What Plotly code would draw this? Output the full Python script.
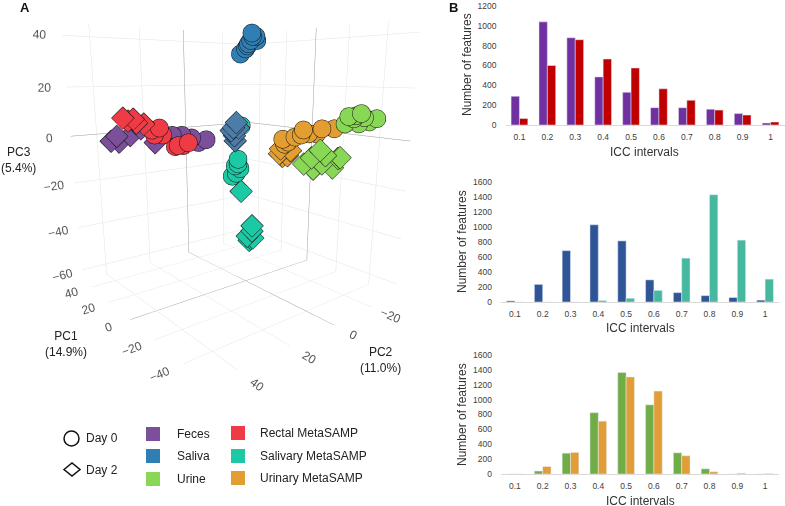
import plotly.graph_objects as go

icc = ["0.1","0.2","0.3","0.4","0.5","0.6","0.7","0.8","0.9","1"]
feces_icc = [290,1040,880,485,330,175,175,160,115,20]
rectal_icc = [65,600,860,665,575,365,250,150,100,30]
saliva_icc = [15,235,685,1030,815,295,125,85,60,25]
salivary_icc = [0,0,0,20,50,155,585,1430,825,305]
urine_icc = [0,40,280,825,1365,930,285,70,0,0]
urinary_icc = [0,100,290,710,1305,1115,245,30,10,5]

# (pc1, pc2, pc3)
feces_d0 = ([15.1,17.6,12.6,13.3,10.8,8.8],[20.1,22.9,17.3,18.2,15.4,13.1],[1,1,-0.1,-1.3,-2,-0.9])
feces_d2 = ([33.2,31.2,31.7,28.2,25.4,21.9],[40.6,38.3,38.9,35,31.9,28],[-1.3,-1.7,0.7,1,3.7,-2])
rectal_d0 = ([13.7,11.9,13.2,11.1,8.1,6.1,4.8,7.4],[32.7,30.7,32.1,29.9,26.5,24.3,22.9,25.7],[4.2,5,2.3,2.3,-2.3,-1.9,-0.8,-1.9])
rectal_d2 = ([20.7,19.5,18.2,17.4,15.7],[40.5,39.1,37.7,36.9,34.9],[8.8,7.7,8.4,6.9,6.5])
saliva_d0 = ([-4,-5.3,-6,-6.5,-7,-6.8,-7.8,-8,-5.8],[5.8,4.4,3.6,3,2.5,2.7,1.6,1.3,3.9],[32.7,34.6,36.5,37.7,39.2,40.4,39.2,37.7,35.7])
saliva_d2 = ([-9.6,-8.9,-8.3,-9.1,-9.3,-10.1],[11.2,12,12.6,11.7,11.5,10.6],[7.2,5.2,4.1,2.2,0.2,5.2])
urine_d0 = ([-41.2,-42,-43.2,-45,-45.8,-47,-48.8,-44.5,-43.7],[-13.8,-14.7,-16.1,-18,-18.9,-20.3,-22.2,-17.5,-16.6],[7.2,9.9,9.1,11,9.5,7.9,9.1,7.2,10.2])
urine_d2 = ([-39.1,-37.1,-35.3,-37.6,-39.6,-40.4,-42.2,-43.4,-43.9],[-4.2,-2,0,-2.5,-4.8,-5.6,-7.6,-9,-9.5],[-2,-4.7,-7,-8.9,-7,-3.9,-8.5,-5,-4.7])
urinary_d0 = ([-35.2,-32.2,-30.9,-28.9,-27.1,-27.6,-25.6,-23.9,-23.1,-22.6],[-14.4,-11,-9.6,-7.4,-5.4,-6,-3.7,-1.8,-0.9,-0.4],[4.9,4.9,3,3,2.6,4.5,1.8,-0.1,-0.9,1])
urinary_d2 = ([-18.8,-20.9,-18.3,-20.1,-18.1],[-3.4,-5.6,-2.8,-4.8,-2.5],[-6.5,-4.2,-3.5,-6.2,-5.4])
salivary_d0 = ([-4.3,-3.5,-3.5,-2.8,-4,-3,-2],[5.5,6.4,6.4,7.2,5.8,6.9,8.1],[5.2,-8.3,-10.2,-11,-12.2,-14.1,-15.3])
salivary_d2 = ([-4.3,-7.3,-7.3,-6,-7,-6.5,-7.5],[5.5,2.2,2.2,3.6,2.5,3,1.9],[-21.8,-36.8,-39.1,-41.4,-42.5,-43.3,-42.2])

PURPLE, BLUE, LIME = "#7B4F9A", "#2F7FB5", "#88D755"
RED, TEAL, ORANGE = "#EF3B45", "#1DC9A4", "#E39E32"

groups = [
    (feces_d0, PURPLE, "circle"), (feces_d2, PURPLE, "diamond"),
    (rectal_d0, RED, "circle"), (rectal_d2, RED, "diamond"),
    (saliva_d0, BLUE, "circle"), (saliva_d2, "#4C7CA8", "diamond"),
    (urine_d0, LIME, "circle"), (urine_d2, LIME, "diamond"),
    (urinary_d0, ORANGE, "circle"), (urinary_d2, ORANGE, "diamond"),
    (salivary_d0, TEAL, "circle"), (salivary_d2, TEAL, "diamond"),
]

fig = go.Figure()
for (d, c, s) in groups:
    fig.add_trace(go.Scatter3d(x=d[0], y=d[1], z=d[2], mode="markers", showlegend=False,
        marker=dict(size=10.5 if s == "circle" else 7.5, color=c, symbol=s, opacity=1,
                    line=dict(color="#111111", width=1))))

W, H = 785, 506
def px(x): return x / W
def py(y): return 1 - y / H

def note(x, y, text, size=12, bold=False, color="#222", angle=0):
    fig.add_annotation(x=px(x), y=py(y), xref="paper", yref="paper", text=f"<b>{text}</b>" if bold else text,
                       xanchor="center", yanchor="middle", textangle=angle,
                       showarrow=False, font=dict(size=size, color=color), align="center")

bars = [
    (feces_icc, rectal_icc, "#7030A0", "#C00000", 505.5, 784.5, 6, 125, 1200, 200, "x", "y", 467, 65, 644, 152),
    (saliva_icc, salivary_icc, "#2F5597", "#46B8A0", 501, 779, 182, 302, 1600, 200, "x2", "y2", 462, 242, 640, 328),
    (urine_icc, urinary_icc, "#70AD47", "#E09D38", 501, 779, 355, 474, 1600, 200, "x3", "y3", 462, 415, 640, 501),
]
for a, b, ca, cb, l, r, t, bt, ymax, dt, xa, ya, ytx, yty, xtx, xty in bars:
    fig.add_trace(go.Bar(x=icc, y=a, marker_color=ca, xaxis=xa, yaxis=ya, showlegend=False))
    fig.add_trace(go.Bar(x=icc, y=b, marker_color=cb, xaxis=xa, yaxis=ya, showlegend=False))
    sx = "xaxis" + xa[1:]
    sy = "yaxis" + ya[1:]
    fig.update_layout({
        sx: dict(domain=[px(l), px(r)], anchor=ya, type="category", showgrid=False, showline=True,
                 automargin=False, linecolor="#d9d9d9", linewidth=1, ticks="", ticklabelstandoff=4,
                 tickfont=dict(size=8.5, color="#404040")),
        sy: dict(domain=[py(bt), py(t)], anchor=xa, range=[0, ymax], dtick=dt, showgrid=False,
                 automargin=False, zeroline=False, showline=False, ticks="", ticklabelstandoff=8,
                 tickfont=dict(size=8.5, color="#404040")),
    })
    note(ytx, yty, "Number of features", 12, color="#333", angle=-90)
    note(xtx, xty, "ICC intervals", 12, color="#333")

ax = dict(showbackground=False, gridcolor="#e4e4e4", gridwidth=1, zeroline=True, zerolinecolor="#999999",
          zerolinewidth=1, showline=False, showspikes=False, title=dict(text=""),
          tickfont=dict(size=12, color="#555555"), dtick=20)
fig.update_layout(
    scene=dict(
        domain=dict(x=[0, px(468)], y=[py(400), py(0)]),
        xaxis=dict(ax, range=[-55, 50]),
        yaxis=dict(ax, range=[-35, 50]),
        zaxis=dict(ax, range=[-65, 45]),
        aspectmode="manual", aspectratio=dict(x=1.28, y=1.28, z=1.45),
        camera=dict(eye=dict(x=-2.0, y=1.6, z=0.46), center=dict(x=0, y=0, z=-0.205)),
    ),
    barmode="group", bargap=0.4, bargroupgap=0,
    width=W, height=H, autosize=False,
    margin=dict(l=0, r=0, t=0, b=0),
    paper_bgcolor="white", plot_bgcolor="white",
    font=dict(family="Liberation Sans, Arial, sans-serif"),
)

note(25, 7, "A", 13, True, "#111")
note(453, 7, "B", 13, True, "#111")
note(18, 160, "PC3<br>(5.4%)")
note(66, 344, "PC1<br>(14.9%)")
note(380, 360, "PC2<br>(11.0%)")
note(102, 438, "Day 0", 12)
note(102, 469.5, "Day 2", 12)

fig.add_shape(type="circle", xref="paper", yref="paper", x0=px(64), x1=px(79), y0=py(446), y1=py(431),
              line=dict(color="#111", width=1.5), fillcolor="white")
fig.add_shape(type="path", xref="paper", yref="paper",
              path=f"M {px(64)} {py(469.5)} L {px(72)} {py(463)} L {px(80)} {py(469.5)} L {px(72)} {py(476)} Z",
              line=dict(color="#111", width=1.5), fillcolor="white")

legend = [(153, 434, PURPLE, "Feces", 175), (153, 456, BLUE, "Saliva", 175), (153, 479, LIME, "Urine", 175),
          (238, 433, RED, "Rectal MetaSAMP", 258), (238, 456, TEAL, "Salivary MetaSAMP", 258),
          (238, 478, ORANGE, "Urinary MetaSAMP", 258)]
for cx, cy, c, t, tx in legend:
    fig.add_shape(type="rect", xref="paper", yref="paper", x0=px(cx-7), x1=px(cx+7), y0=py(cy+7), y1=py(cy-7),
                  fillcolor=c, line=dict(width=0))
    fig.add_annotation(x=px(tx), y=py(cy), xref="paper", yref="paper", text=t, showarrow=False, xanchor="left",
                       yanchor="middle", font=dict(size=12, color="#222"))

fig.write_html("out.html", config=dict(displayModeBar=False),
               post_script="document.body.style.margin='0';")
